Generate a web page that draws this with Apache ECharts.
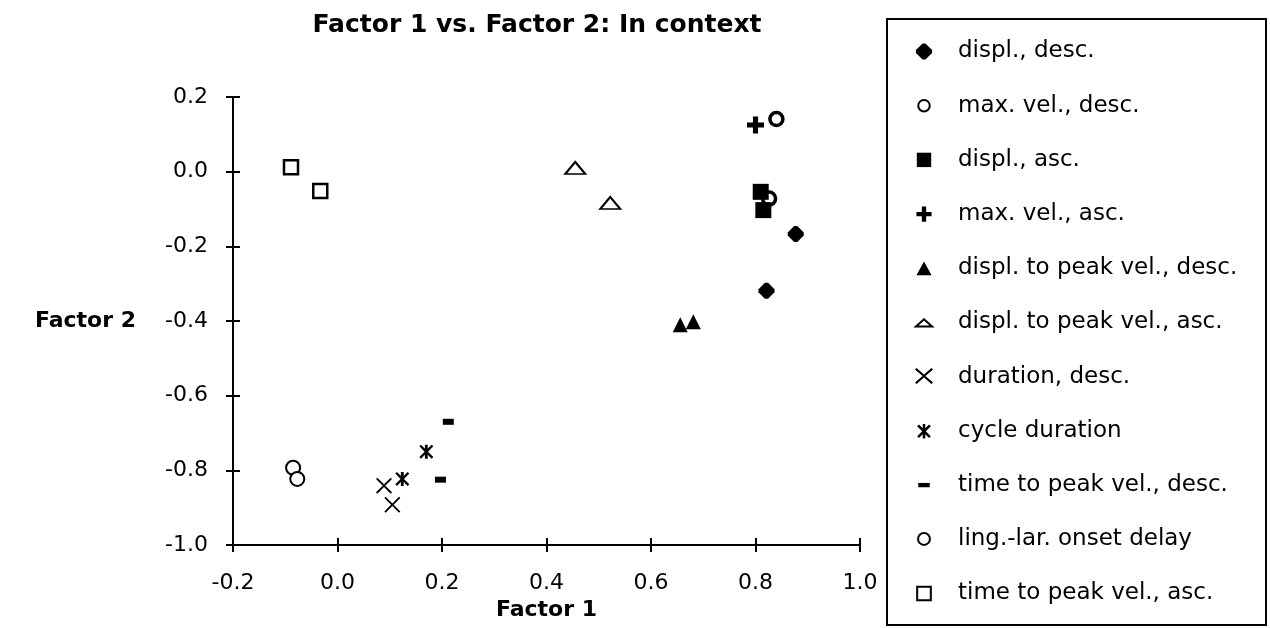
<!DOCTYPE html>
<html>
<head>
<meta charset="utf-8">
<script src="https://cdn.jsdelivr.net/npm/echarts@6/dist/echarts.min.js"></script>
<style>
  html, body { margin: 0; padding: 0; background: #fff; }
  #chart { width: 1270px; height: 628px; }
</style>
</head>
<body>
<div id="chart"></div>
<script>
// series names (legend order)
var seriesNames = [
    'displ., desc.', 'max. vel., desc.', 'displ., asc.', 'max. vel., asc.',
    'displ. to peak vel., desc.', 'displ. to peak vel., asc.', 'duration, desc.',
    'cycle duration', 'time to peak vel., desc.', 'ling.-lar. onset delay',
    'time to peak vel., asc.'
];

// [factor 1, factor 2] per point
var displDesc     = [[0.877, -0.167], [0.821, -0.319]];
var maxVelDesc    = [[0.840, 0.141], [0.826, -0.072]];
var displAsc      = [[0.810, -0.054], [0.815, -0.103]];
var maxVelAsc     = [[0.800, 0.125]];
var displPeakDesc = [[0.656, -0.410], [0.681, -0.402]];
var displPeakAsc  = [[0.455, 0.010], [0.522, -0.084]];
var durationDesc  = [[0.089, -0.841], [0.105, -0.892]];
var cycleDuration = [[0.124, -0.823], [0.170, -0.750]];
var timePeakDesc  = [[0.212, -0.670], [0.197, -0.825]];
var lingLarDelay  = [[-0.085, -0.793], [-0.077, -0.823]];
var timePeakAsc   = [[-0.089, 0.012], [-0.033, -0.052]];

var xTicks = [-0.2, 0.0, 0.2, 0.4, 0.6, 0.8, 1.0];
var yTicks = [-1.0, -0.8, -0.6, -0.4, -0.2, 0.0, 0.2];

var allData = [displDesc, maxVelDesc, displAsc, maxVelAsc, displPeakDesc, displPeakAsc,
    durationDesc, cycleDuration, timePeakDesc, lingLarDelay, timePeakAsc];

// 符号
var DIAMOND = 'path://M40,0H60L100,40V60L60,100H40L0,60V40Z';
var PLUS = 'path://M35,0H65V35H100V65H65V100H35V65H0V35H35Z';
var CROSS = 'path://M0,8L8,0L50,42L92,0L100,8L58,50L100,92L92,100L50,58L8,100L0,92L42,50Z';
var STAR = 'path://M0,12L12,0L50,38L88,0L100,12L62,50L100,88L88,100L50,62L12,100L0,88L38,50Z M40,0H60V100H40Z';

var black = { color: '#000', opacity: 1 };
var open = function (w) { return { color: '#fff', borderColor: '#000', borderWidth: w, opacity: 1 }; };

var styles = [
    { symbol: DIAMOND, size: 16, item: black, icon: 'path://M0,0M100,100M42,5H58L95,42V58L58,95H42L5,58V42Z' },
    { symbol: 'circle', size: 13, item: open(3.5), icon: 'path://M0,0M100,100M50,18A32,32 0 1 1 49.9,18Z' },
    { symbol: 'rect', size: 16, item: black, icon: 'path://M0,0M100,100M10,10H90V90H10Z' },
    { symbol: PLUS, size: 17, item: black, icon: 'path://M0,0M100,100M38,8H62V38H92V62H62V92H38V62H8V38H38Z' },
    { symbol: 'triangle', size: 15, item: black, icon: 'path://M0,0M100,100M50,12L92,88H8Z' },
    { symbol: 'triangle', size: [20, 12], item: open(2), icon: 'path://M0,0M100,100M50,32L95,72H5Z' },
    { symbol: CROSS, size: 16, item: black, icon: 'path://M0,0M100,100M0,10L8,2L50,38L92,2L100,10L58,46L100,82L92,90L50,54L8,90L0,82L42,46Z' },
    { symbol: STAR, size: 14, item: black, icon: 'path://M0,0M100,100M12,24L22,14L50,42L78,14L88,24L60,52L88,80L78,90L50,62L22,90L12,80L40,52Z M43,12H57V92H43Z' },
    { symbol: 'rect', size: [11, 6], item: black, icon: 'path://M0,0M100,100M18,38H82V62H18Z' },
    { symbol: 'circle', size: 14, item: open(2), icon: 'path://M0,0M100,100M50,15A33,33 0 1 1 49.9,15Z' },
    { symbol: 'rect', size: 14, item: open(2.5), icon: 'path://M0,0M100,100M12,12H88V88H12Z' }
];

var chart = echarts.init(document.getElementById('chart'));

var series = seriesNames.map(function (name, i) {
    return {
        name: name,
        type: 'scatter',
        data: allData[i],
        symbol: styles[i].symbol,
        symbolSize: styles[i].size,
        itemStyle: styles[i].item,
        z: i === 2 ? 3 : 2,
        emphasis: { disabled: true }
    };
});

var axisFont = { fontFamily: 'DejaVu Sans', fontSize: 22, color: '#000' };

var option = {
    animation: false,
    backgroundColor: '#fff',
    title: {
        text: 'Factor 1 vs. Factor 2: In context',
        left: 532,
        textAlign: 'center',
        top: 8,
        textStyle: { fontFamily: 'DejaVu Sans', fontWeight: 'bold', fontSize: 25, color: '#000' }
    },
    grid: { left: 233, right: 410, top: 97, bottom: 83 },
    legend: {
        orient: 'vertical',
        left: 914,
        top: 40,
        height: 585,
        padding: 0,
        itemWidth: 18,
        itemHeight: 18,
        itemGap: 31.2,
        selectedMode: false,
        data: seriesNames.map(function (n, i) { return { name: n, icon: styles[i].icon }; }),
        textStyle: { fontFamily: 'DejaVu Sans', fontSize: 23, lineHeight: 20, color: '#000', padding: [0, 0, 0, 20] }
    },
    graphic: [{
        type: 'rect',
        shape: { x: 887, y: 19, width: 379, height: 606 },
        style: { fill: null, stroke: '#000', lineWidth: 2 }
    }],
    xAxis: [{
        type: 'value',
        min: xTicks[0], max: xTicks[xTicks.length - 1], interval: 0.2,
        name: 'Factor 1',
        nameLocation: 'middle',
        nameGap: 54,
        nameTextStyle: { fontFamily: 'DejaVu Sans', fontWeight: 'bold', fontSize: 22, color: '#000' },
        axisLine: { onZero: false, lineStyle: { color: '#000', width: 2 } },
        axisTick: { length: 7, lineStyle: { color: '#000', width: 2 } },
        axisLabel: Object.assign({ margin: 27, formatter: function (v) { return v.toFixed(1); } }, axisFont),
        splitLine: { show: false }
    }, {
        // inward half of the crossing ticks
        type: 'value', position: 'bottom',
        min: xTicks[0], max: xTicks[xTicks.length - 1], interval: 0.2,
        axisLine: { show: false, onZero: false },
        axisTick: { inside: true, length: 7, lineStyle: { color: '#000', width: 2 } },
        axisLabel: { show: false },
        splitLine: { show: false }
    }],
    yAxis: [{
        type: 'value',
        min: yTicks[0], max: yTicks[yTicks.length - 1], interval: 0.2,
        name: 'Factor 2',
        nameLocation: 'middle',
        nameRotate: 0,
        nameGap: 97,
        nameTextStyle: { fontFamily: 'DejaVu Sans', fontWeight: 'bold', fontSize: 22, color: '#000' },
        axisLine: { onZero: false, lineStyle: { color: '#000', width: 2 } },
        axisTick: { length: 7, lineStyle: { color: '#000', width: 2 } },
        axisLabel: Object.assign({ margin: 25, formatter: function (v) { return v.toFixed(1); } }, axisFont),
        splitLine: { show: false }
    }, {
        type: 'value', position: 'left',
        min: yTicks[0], max: yTicks[yTicks.length - 1], interval: 0.2,
        axisLine: { show: false, onZero: false },
        axisTick: { inside: true, length: 7, lineStyle: { color: '#000', width: 2 } },
        axisLabel: { show: false },
        splitLine: { show: false }
    }],
    series: series
};

chart.setOption(option);
</script>
</body>
</html>
